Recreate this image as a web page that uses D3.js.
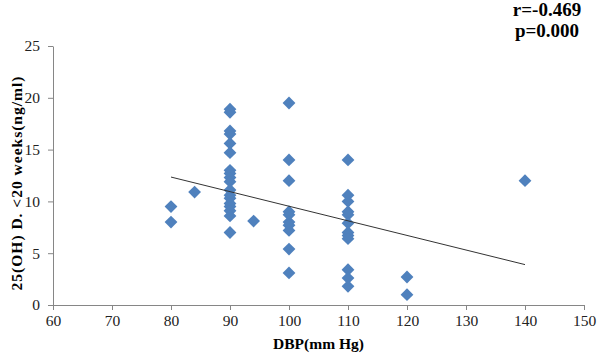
<!DOCTYPE html>
<html>
<head>
    <script src="https://d3js.org/d3.v7.min.js"></script>
    <style>
        body { margin: 0; background: #fff; }
    </style>
</head>
<body>

<script>
// DBP groups and the 25(OH)D values
const dbp80 = [9.5, 8.0];
const dbp84 = [10.9];
const dbp90 = [18.9, 18.6, 16.8, 16.5, 15.6, 14.7, 13.0, 12.7, 12.3, 11.9, 11.1, 10.6, 10.3, 9.8, 9.5, 9.1, 8.6, 7.0];
const dbp94 = [8.1];
const dbp100 = [19.5, 14.0, 12.0, 9.0, 8.7, 8.0, 7.7, 7.2, 5.4, 3.1];
const dbp110 = [14.0, 10.6, 10.0, 9.0, 8.7, 7.9, 7.0, 6.7, 6.4, 3.4, 2.6, 1.8];
const dbp120 = [2.7, 1.0];
const dbp140 = [12.0];

const groups = [[80, dbp80], [84, dbp84], [90, dbp90], [94, dbp94], [100, dbp100],
                [110, dbp110], [120, dbp120], [140, dbp140]];

// linear trendline ends as drawn in the figure
const trendX = [80, 140];
const trendY = [12.35, 3.9];

const xTicks = [60, 70, 80, 90, 100, 110, 120, 130, 140, 150];
const yTicks = [0, 5, 10, 15, 20, 25];

const stats = ['r=-0.469', 'p=0.000'];

const points = groups.flatMap(([x, ys]) => ys.map(y => ({ x: x, y: y })));

const width = 600, height = 358;

const svg = d3.select('body')
    .append('svg')
    .attr('width', width)
    .attr('height', height);

const xScale = d3.scaleLinear().domain([60, 150]).range([53, 584]);
const yScale = d3.scaleLinear().domain([0, 25]).range([305, 46]);

// axes
const xAxis = svg.append('g')
    .attr('transform', `translate(0, ${yScale(0)})`)
    .call(d3.axisBottom(xScale).tickValues(xTicks).tickSize(5).tickSizeOuter(0).tickPadding(5));

const yAxis = svg.append('g')
    .attr('transform', `translate(${xScale(60)}, 0)`)
    .call(d3.axisLeft(yScale).tickValues(yTicks).tickSize(5).tickSizeOuter(0).tickPadding(8));

[xAxis, yAxis].forEach(g => {
    g.select('.domain').attr('stroke', '#868686');
    g.selectAll('.tick line').attr('stroke', '#868686');
    g.selectAll('.tick text')
        .attr('fill', '#222')
        .style('font-family', '"Liberation Serif", serif')
        .style('font-size', '15.5px');
});

// points
svg.append('g')
    .selectAll('path')
    .data(points)
    .enter()
    .append('path')
    .attr('d', d3.symbol(d3.symbolSquare, 82))
    .attr('transform', d => `translate(${xScale(d.x)}, ${yScale(d.y)}) rotate(45)`)
    .attr('fill', '#4F81BD');

// trendline
svg.append('line')
    .attr('x1', xScale(trendX[0]))
    .attr('y1', yScale(trendY[0]))
    .attr('x2', xScale(trendX[1]))
    .attr('y2', yScale(trendY[1]))
    .attr('stroke', '#333')
    .attr('stroke-width', 1);

// axis titles
svg.append('text')
    .attr('x', (xScale(60) + xScale(150)) / 2)
    .attr('y', 349)
    .attr('text-anchor', 'middle')
    .style('font-family', '"Liberation Serif", serif')
    .style('font-weight', 'bold')
    .style('font-size', '15.5px')
    .text('DBP(mm Hg)');

svg.append('text')
    .attr('transform', 'translate(22, 183) rotate(-90)')
    .attr('text-anchor', 'middle')
    .style('font-family', '"Liberation Serif", serif')
    .style('font-weight', 'bold')
    .style('font-size', '15.5px')
    .style('letter-spacing', '1px')
    .text('25(OH) D. <20 weeks(ng/ml)');

// correlation note
svg.selectAll('text.stat')
    .data(stats)
    .enter()
    .append('text')
    .attr('class', 'stat')
    .attr('x', 547)
    .attr('y', (d, i) => 16 + i * 21)
    .attr('text-anchor', 'middle')
    .style('font-family', '"Liberation Serif", serif')
    .style('font-weight', 'bold')
    .style('font-size', '19px')
    .text(d => d);
</script>

</body>
</html>
